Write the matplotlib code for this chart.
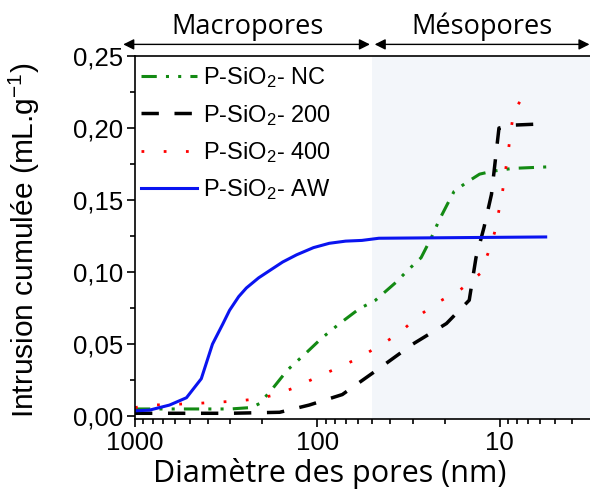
"""Courbes d'intrusion cumulée au mercure pour les échantillons P-SiO2."""
import matplotlib
matplotlib.use("Agg")
import matplotlib.pyplot as plt
from matplotlib.ticker import FixedLocator, FuncFormatter, LogLocator, NullFormatter

plt.rcParams['font.family'] = ['Liberation Sans', 'DejaVu Sans']
plt.rcParams['mathtext.fontset'] = 'custom'
plt.rcParams['mathtext.rm'] = 'Liberation Sans'
plt.rcParams['mathtext.it'] = 'Liberation Sans:italic'

# Données (diamètre en nm, intrusion en mL/g)
d_aw = [1000, 833, 647, 522, 433, 376, 330, 303, 270, 245, 210, 183, 155,
        130, 105, 86, 70, 57, 46, 5.6]
v_aw = [0.0037, 0.0042, 0.0077, 0.0128, 0.026, 0.050, 0.064, 0.0735, 0.083,
        0.089, 0.096, 0.101, 0.107, 0.112, 0.117, 0.120, 0.1215, 0.122,
        0.1235, 0.1244]

d_nc = [1000, 600, 300, 230, 208, 179, 146, 115, 95, 76, 59, 48, 37, 32,
        27, 23.7, 21.5, 19.4, 17.8, 15.3, 12.9, 11, 8.5, 5.56]
v_nc = [0.005, 0.005, 0.005, 0.006, 0.0087, 0.018, 0.032, 0.044, 0.054,
        0.064, 0.0745, 0.0805, 0.093, 0.1012, 0.110, 0.124, 0.136, 0.147,
        0.156, 0.162, 0.168, 0.170, 0.172, 0.173]

d_200 = [1000, 300, 161, 111, 73, 46, 30, 19.6, 14.7, 13.5, 12.2, 11.1,
         10.1, 8.5, 5.56]
v_200 = [0.002, 0.002, 0.0027, 0.0077, 0.015, 0.033, 0.050, 0.0643,
         0.0805, 0.110, 0.131, 0.154, 0.200, 0.202, 0.203]

d_400 = [1000, 802, 484, 285, 219, 170, 132, 101, 79, 60, 47, 36, 28,
         21.5, 16.5, 12.8, 11.6, 10.7, 9.7, 9.0, 8.4, 7.6, 7.0]
v_400 = [0.006, 0.0077, 0.0087, 0.0104, 0.0118, 0.0148, 0.020, 0.027,
         0.033, 0.040, 0.048, 0.057, 0.0694, 0.0795, 0.0876, 0.099, 0.113,
         0.127, 0.154, 0.183, 0.2115, 0.220, 0.228]

labels = [r'P-SiO$_2$- NC', r'P-SiO$_2$- 200', r'P-SiO$_2$- 400', r'P-SiO$_2$- AW']
limite_meso = 50
x_ticks = [1000, 100, 10]
y_ticks = [0.00, 0.05, 0.10, 0.15, 0.20, 0.25]

fig = plt.figure(figsize=(5.9, 4.93), dpi=100)
ax = fig.add_axes([0.2288, 0.150, 0.7712, 0.7364])

ax.axvspan(limite_meso, 3.2, color='#f3f6fa', zorder=0, lw=0)

ax.plot(d_nc, v_nc, color='#138a13', lw=2.2,
        linestyle=(0, (5, 3, 1, 3, 1, 3)), label=labels[0])
ax.plot(d_200, v_200, color='black', lw=2.5,
        linestyle=(0, (5, 4.5)), label=labels[1])
ax.plot(d_400, v_400, color='red', lw=2.0,
        linestyle=(0, (1, 7)), label=labels[2])
ax.plot(d_aw, v_aw, color='#0a14f0', lw=2.2, label=labels[3])

ax.set_xscale('log')
ax.set_xlim(1000, 3.2)
ax.set_ylim(-0.002, 0.25)
ax.xaxis.set_major_locator(FixedLocator(x_ticks))
ax.xaxis.set_major_formatter(FuncFormatter(lambda v, p: f'{v:g}'))
ax.xaxis.set_minor_locator(LogLocator(base=10, subs=range(2, 10)))
ax.xaxis.set_minor_formatter(NullFormatter())
ax.yaxis.set_major_locator(FixedLocator(y_ticks))
ax.yaxis.set_minor_locator(FixedLocator([0.025, 0.075, 0.125, 0.175, 0.225]))
ax.yaxis.set_major_formatter(FuncFormatter(lambda v, p: f'{v:.2f}'.replace('.', ',')))

ax.tick_params(which='major', direction='out', length=6, width=1.2,
               labelsize=18.5, pad=2.5, top=False, right=False)
ax.tick_params(which='minor', direction='out', length=3.5, width=1.2,
               top=False, right=False)
for side in ['left', 'bottom', 'top']:
    ax.spines[side].set_linewidth(1.2)
ax.spines['right'].set_visible(False)

ax.set_xlabel('Diamètre des pores (nm)', fontsize=22, family='Open Sans')
ax.xaxis.set_label_coords(0.4286, -0.107)
ax.set_ylabel('Intrusion cumulée (mL.g$^{-1}$)', fontsize=21.5)
ax.yaxis.set_label_coords(-0.205, 0.493)

ax.legend(loc='upper left', bbox_to_anchor=(-0.024, 1.02), frameon=False,
          fontsize=17, handlelength=2.4, handletextpad=0.25, labelspacing=0.53,
          borderaxespad=0.3)

# Flèches Macropores / Mésopores au-dessus du graphique
trans = ax.get_xaxis_transform()
arrow_kw = dict(arrowstyle='<|-|>', color='black', lw=1.0,
                mutation_scale=16, shrinkA=0, shrinkB=0)
ax.annotate('', xy=(1160, 1.032), xytext=(51.5, 1.032), xycoords=trans,
            textcoords=trans, arrowprops=arrow_kw, annotation_clip=False)
ax.annotate('', xy=(48.5, 1.032), xytext=(3.22, 1.032), xycoords=trans,
            textcoords=trans, arrowprops=arrow_kw, annotation_clip=False)
ax.text(240, 1.08, 'Macropores', transform=trans, ha='center', va='center',
        fontsize=19.5, family='Open Sans')
ax.text(12.5, 1.08, 'Mésopores', transform=trans, ha='center', va='center',
        fontsize=19.5, family='Open Sans')

fig.savefig('out.png', dpi=100)
